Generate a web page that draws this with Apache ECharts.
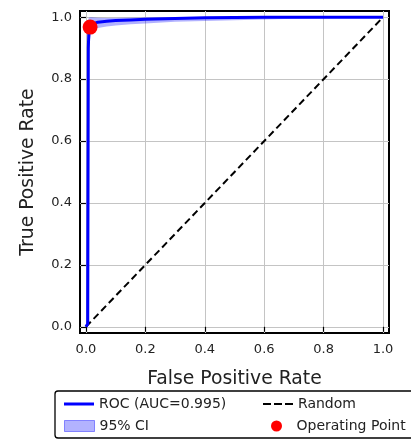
<!DOCTYPE html>
<html>
<head>
<meta charset="utf-8">
<script src="https://cdn.jsdelivr.net/npm/echarts@6/dist/echarts.min.js"></script>
<style>
  html, body { margin: 0; padding: 0; background: #fff; }
  #chart { width: 411px; height: 442px; }
</style>
</head>
<body>
<div id="chart"></div>
<script>
(function () {
    'use strict';

    // ROC curve
    var rocFpr = [0, 0.006, 0.008, 0.01, 0.015, 0.02, 0.04, 0.07, 0.1, 0.15, 0.2, 0.3, 0.4, 0.6, 1.0];
    var rocTpr = [0, 0.01, 0.9, 0.96, 0.975, 0.98, 0.984, 0.987, 0.989, 0.991, 0.993, 0.996, 0.998, 1.0, 1.0];
    // 95% confidence band
    var ciFpr = [0, 0.003, 0.006, 0.008, 0.012, 0.02, 0.04, 0.07, 0.1, 0.15, 0.2, 0.3, 0.5, 0.7, 1.0];
    var ciHigh = [0, 0.6, 0.97, 0.995, 1.0, 1.0, 0.998, 0.997, 0.997, 0.998, 0.999, 1.0, 1.0, 1.0, 1.0];
    var ciLow = [0, 0.0, 0.3, 0.8, 0.92, 0.955, 0.965, 0.97, 0.973, 0.977, 0.98, 0.985, 0.99, 0.995, 1.0];
    var randomLine = [[0, 0], [1, 1]];
    var operatingPoint = [[0.014, 0.968]];
    var tickValues = [0, 0.2, 0.4, 0.6, 0.8, 1.0];
    var aucLabel = 'ROC (AUC=0.995)';

    var font = 'DejaVu Sans';

    var rocData = [];
    for (var i = 0; i < rocFpr.length; i++) {
        rocData.push([rocFpr[i], rocTpr[i]]);
    }

    function axisBase(name, gap, labelMargin) {
        return {
            type: 'value',
            min: -0.02,
            max: 1.02,
            name: name,
            nameLocation: 'middle',
            nameGap: gap,
            nameTextStyle: { fontFamily: font, fontSize: 18.8, color: '#222' },
            axisLine: { show: false },
            axisTick: {
                show: true, length: 5, customValues: tickValues,
                lineStyle: { color: '#000', width: 1.2 }
            },
            axisLabel: {
                customValues: tickValues,
                margin: labelMargin,
                fontFamily: font, fontSize: 13, color: '#222',
                formatter: function (v) { return v.toFixed(1); }
            },
            splitLine: { show: true, lineStyle: { color: '#c4c4c4', width: 1 } }
        };
    }

    // CI band as one polygon: upper edge forward, lower edge back
    function renderBand(params, api) {
        var pts = [];
        for (var k = 0; k < ciFpr.length; k++) {
            pts.push(api.coord([ciFpr[k], ciHigh[k]]));
        }
        for (var m = ciFpr.length - 1; m >= 0; m--) {
            pts.push(api.coord([ciFpr[m], ciLow[m]]));
        }
        return {
            type: 'polygon',
            shape: { points: pts },
            style: { fill: 'rgba(0,0,255,0.3)', stroke: 'none' }
        };
    }

    var lineIcon = 'path://M0,0 H30 V3 H0 Z';
    var dashIcon = 'path://M0,0 H8 V2 H0 Z M11,0 H19 V2 H11 Z M22,0 H30 V2 H22 Z';

    function legendAt(left, top, item) {
        return {
            left: left, top: top, orient: 'vertical',
            itemWidth: 30, itemHeight: 11, z: 20,
            textStyle: { fontFamily: font, fontSize: 14, color: '#222' },
            data: [item]
        };
    }

    var myChart = echarts.init(document.getElementById('chart'));

    myChart.setOption({
        animation: false,
        grid: {
            left: 80, right: 22, top: 11, bottom: 109,
            show: true, borderColor: '#000', borderWidth: 2,
            containLabel: false, outerBoundsMode: 'none'
        },
        xAxis: axisBase('False Positive Rate', 37, 10),
        yAxis: axisBase('True Positive Rate', 42, 8),
        graphic: [{
            type: 'rect',
            shape: { x: 55, y: 391, width: 370, height: 47, r: 3 },
            style: { fill: '#fff', stroke: '#000', lineWidth: 1.3 },
            z: 10
        }],
        legend: [
            legendAt(59, 392, { name: aucLabel, icon: lineIcon, itemStyle: { color: '#0000ff' } }),
            legendAt(59, 414, { name: '95% CI', icon: 'rect', itemStyle: { color: 'rgba(0,0,255,0.3)', borderColor: 'rgba(0,0,255,0.4)', borderWidth: 1 } }),
            legendAt(258, 392, { name: 'Random', icon: dashIcon, itemStyle: { color: '#000' } }),
            legendAt(266, 414, { name: 'Operating Point', icon: 'circle', itemStyle: { color: '#ff0000' } })
        ],
        series: [{
            name: '95% CI',
            type: 'custom',
            data: [0],
            renderItem: renderBand,
            itemStyle: { color: 'rgba(0,0,255,0.3)' },
            silent: true,
            z: 1
        }, {
            name: 'Random',
            type: 'line',
            data: randomLine,
            symbol: 'none',
            itemStyle: { color: '#000' },
            lineStyle: { color: '#000', width: 2, type: [7, 4] },
            z: 2
        }, {
            name: aucLabel,
            type: 'line',
            data: rocData,
            symbol: 'none',
            itemStyle: { color: '#0000ff' },
            lineStyle: { color: '#0000ff', width: 3 },
            z: 3
        }, {
            name: 'Operating Point',
            type: 'scatter',
            data: operatingPoint,
            symbolSize: 15,
            itemStyle: { color: '#ff0000', opacity: 1 },
            z: 5
        }]
    });
}());
</script>
</body>
</html>
